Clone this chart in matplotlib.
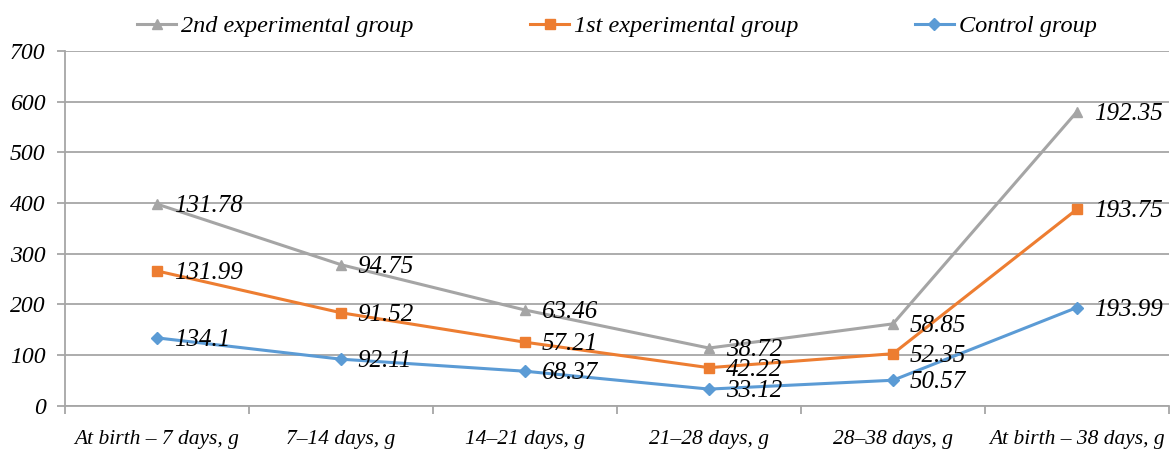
import numpy as np
import matplotlib.pyplot as plt

plt.rcParams['font.family'] = ['Liberation Serif', 'DejaVu Serif']
plt.rcParams['font.style'] = 'italic'

categories = ["At birth – 7 days, g", "7–14 days, g", "14–21 days, g",
              "21–28 days, g", "28–38 days, g", "At birth – 38 days, g"]
control = [134.1, 92.11, 68.37, 33.12, 50.57, 193.99]
group1 = [131.99, 91.52, 57.21, 42.22, 52.35, 193.75]
group2 = [131.78, 94.75, 63.46, 38.72, 58.85, 192.35]

# stacked lines
c = np.array(control)
g1 = c + np.array(group1)
g2 = g1 + np.array(group2)
x = np.arange(len(categories))

fig = plt.figure(figsize=(11.7, 4.5), dpi=100)
ax = fig.add_axes([0.0556, 0.098, 0.9435, 0.789])

series = [
    ("2nd experimental group", g2, group2, "#a5a5a5", "^", 7.5),
    ("1st experimental group", g1, group1, "#ed7d31", "s", 7.5),
    ("Control group", c, control, "#5b9bd5", "D", 6),
]
for name, ys, vals, col, mk, ms in series:
    ax.plot(x, ys, color=col, lw=2.2, marker=mk, ms=ms, label=name, zorder=3)
    for xi, yi, v in zip(x, ys, vals):
        ax.annotate(f"{v:g}", (xi, yi), xytext=(12, -1.5), textcoords="offset points",
                    ha="left", va="center", fontsize=18, zorder=4)

ax.set_xlim(-0.5, len(categories) - 0.5)
ax.set_ylim(0, 700)
ax.set_yticks(np.arange(0, 701, 100))
ax.yaxis.grid(True, color="#a6a6a6", lw=1.3)
ax.set_axisbelow(True)

ax.set_xticks(np.arange(-0.5, len(categories)), minor=False)
ax.set_xticklabels([])
ax.set_xticks(x, minor=True)
ax.set_xticklabels(categories, minor=True, fontsize=15.5)
ax.tick_params(axis="x", which="major", length=6, color="#a6a6a6", width=1.3)
ax.tick_params(axis="x", which="minor", length=0, pad=17)
ax.tick_params(axis="y", length=6, color="#a6a6a6", width=1.3, labelsize=17, pad=8)

for s in ["top", "right"]:
    ax.spines[s].set_visible(False)
for s in ["left", "bottom"]:
    ax.spines[s].set_color("#a6a6a6")
    ax.spines[s].set_linewidth(1.3)

ax.legend(loc="lower center", bbox_to_anchor=(0.5, 1.0), ncol=3, frameon=False,
          fontsize=17.5, handlelength=1.6, columnspacing=4.8, handletextpad=0.2,
          borderaxespad=0.15)

fig.savefig("out.png", dpi=100)
